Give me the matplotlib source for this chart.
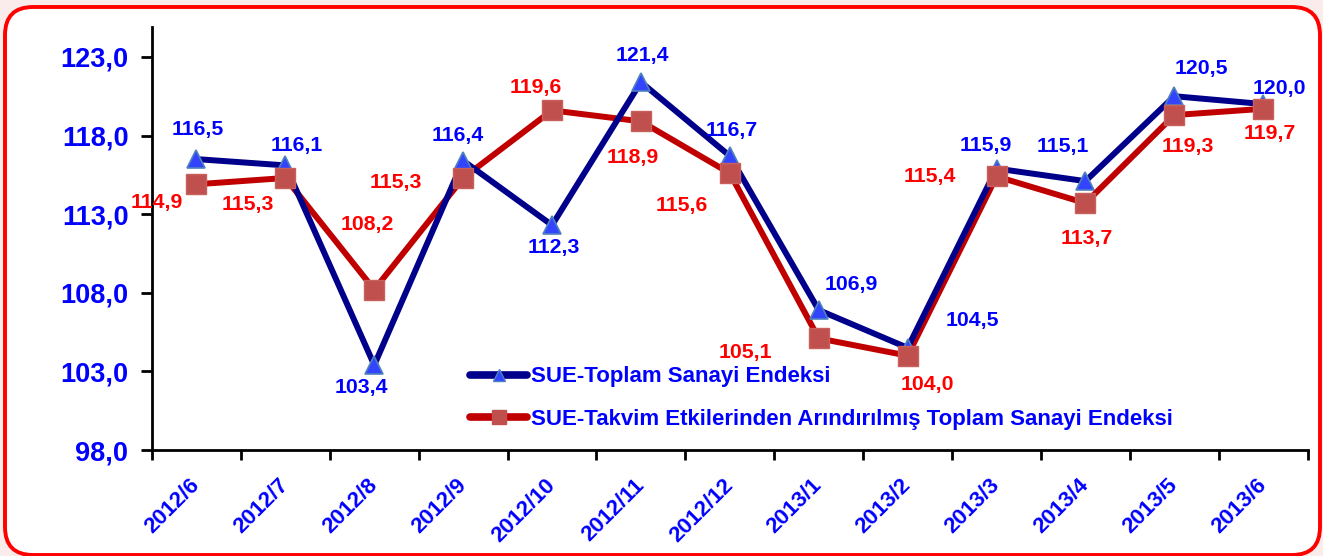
import matplotlib.pyplot as plt
from matplotlib.lines import Line2D
from matplotlib.patches import FancyBboxPatch

months = ['2012/6', '2012/7', '2012/8', '2012/9', '2012/10', '2012/11', '2012/12',
          '2013/1', '2013/2', '2013/3', '2013/4', '2013/5', '2013/6']
toplam = [116.5, 116.1, 103.4, 116.4, 112.3, 121.4, 116.7, 106.9, 104.5, 115.9, 115.1, 120.5, 120.0]
takvim = [114.9, 115.3, 108.2, 115.3, 119.6, 118.9, 115.6, 105.1, 104.0, 115.4, 113.7, 119.3, 119.7]
yticks = [98, 103, 108, 113, 118, 123]

name_toplam = 'SUE-Toplam Sanayi Endeksi'
name_takvim = 'SUE-Takvim Etkilerinden Arındırılmış Toplam Sanayi Endeksi'

# where each value label sits relative to its point (pixels)
off_toplam = [(1, 30), (11, 20), (-13, -22), (-5, 25), (2, -22), (1, 27), (2, 25),
              (33, 26), (65, 27), (-11, 23), (-23, 35), (27, 28), (16, 16)]
off_takvim = [(-40, -18), (-38, -27), (-7, 65), (-67, -5), (-16, 23), (-8, -36), (-48, -32),
              (-73, -14), (20, -29), (-67, 0), (1, -35), (14, -31), (7, -25)]

plt.rcParams['font.family'] = ['Liberation Sans', 'DejaVu Sans']
plt.rcParams['font.weight'] = 'bold'

BLUE_TXT = '#0000FF'
RED_TXT = '#FF0000'
NAVY = '#00008B'
DARKRED = '#C00000'

fig = plt.figure(figsize=(13.23, 5.56), dpi=100, facecolor='#FBECEC')

# rounded red frame
frame = FancyBboxPatch((0.05, 0.01), 13.15, 5.48, boxstyle='round,pad=0,rounding_size=0.28',
                       transform=fig.dpi_scale_trans, facecolor='white', edgecolor='#FF0000',
                       linewidth=2.8, zorder=-10)
fig.patches.append(frame)

ax = fig.add_axes([0.1149, 0.1906, 0.8735, 0.7608])
ax.patch.set_alpha(0)

x = list(range(len(months)))
ax.plot(x, takvim, color=DARKRED, linewidth=4.3, zorder=2, solid_capstyle='round')
ax.plot(x, toplam, color=NAVY, linewidth=4.3, zorder=3, solid_capstyle='round')
ax.plot(x, toplam, linestyle='none', marker='^', markersize=13, markerfacecolor='#3344FF',
        markeredgecolor='#4F81BD', markeredgewidth=1.2, zorder=4)
ax.plot(x, takvim, linestyle='none', marker='s', markersize=14, markerfacecolor='#C0504D',
        markeredgecolor='#C8605D', markeredgewidth=1, zorder=5)

def fmt(v):
    return f'{v:.1f}'.replace('.', ',')

for i, v in enumerate(toplam):
    ax.annotate(fmt(v), (i, v), xytext=off_toplam[i], textcoords='offset pixels',
                ha='center', va='center', color=BLUE_TXT, fontsize=15.3, fontweight='bold', zorder=6)
for i, v in enumerate(takvim):
    ax.annotate(fmt(v), (i, v), xytext=off_takvim[i], textcoords='offset pixels',
                ha='center', va='center', color=RED_TXT, fontsize=15.3, fontweight='bold', zorder=6)

ax.set_xlim(-0.5, len(months) - 0.5)
ax.set_ylim(98, 124.9)
ax.set_yticks(yticks, [fmt(t) for t in yticks])
ax.set_xticks(x, months, rotation=45, ha='right', va='center', rotation_mode='anchor')
ax.set_xticks([i - 0.5 for i in range(len(months) + 1)], minor=True)
ax.tick_params(axis='x', which='major', length=0, pad=23, labelsize=16, labelcolor=BLUE_TXT)
ax.tick_params(axis='x', which='minor', length=7, width=2, direction='out')
ax.tick_params(axis='y', length=8, width=2, direction='out', pad=9, labelsize=19.5, labelcolor=BLUE_TXT)
for lbl in ax.get_xticklabels() + ax.get_yticklabels():
    lbl.set_fontweight('bold')

for s in ['top', 'right']:
    ax.spines[s].set_visible(False)
for s in ['left', 'bottom']:
    ax.spines[s].set_linewidth(2)

handles = [
    Line2D([], [], color=NAVY, linewidth=5.5, solid_capstyle='round', marker='^', markersize=9,
           markerfacecolor='#3344FF', markeredgecolor='#4F81BD'),
    Line2D([], [], color=DARKRED, linewidth=5.5, solid_capstyle='round', marker='s', markersize=10,
           markerfacecolor='#C0504D', markeredgecolor='#C0504D'),
]
leg = fig.legend(handles, [name_toplam, name_takvim], loc='upper left', bbox_to_anchor=(0.355, 0.341),
                 frameon=False, borderpad=0, borderaxespad=0, handlelength=2.6, handletextpad=0.18,
                 labelspacing=0.97, prop={'weight': 'bold', 'size': 16})
for t in leg.get_texts():
    t.set_color(BLUE_TXT)

fig.savefig('out.png', dpi=100, facecolor=fig.get_facecolor())
